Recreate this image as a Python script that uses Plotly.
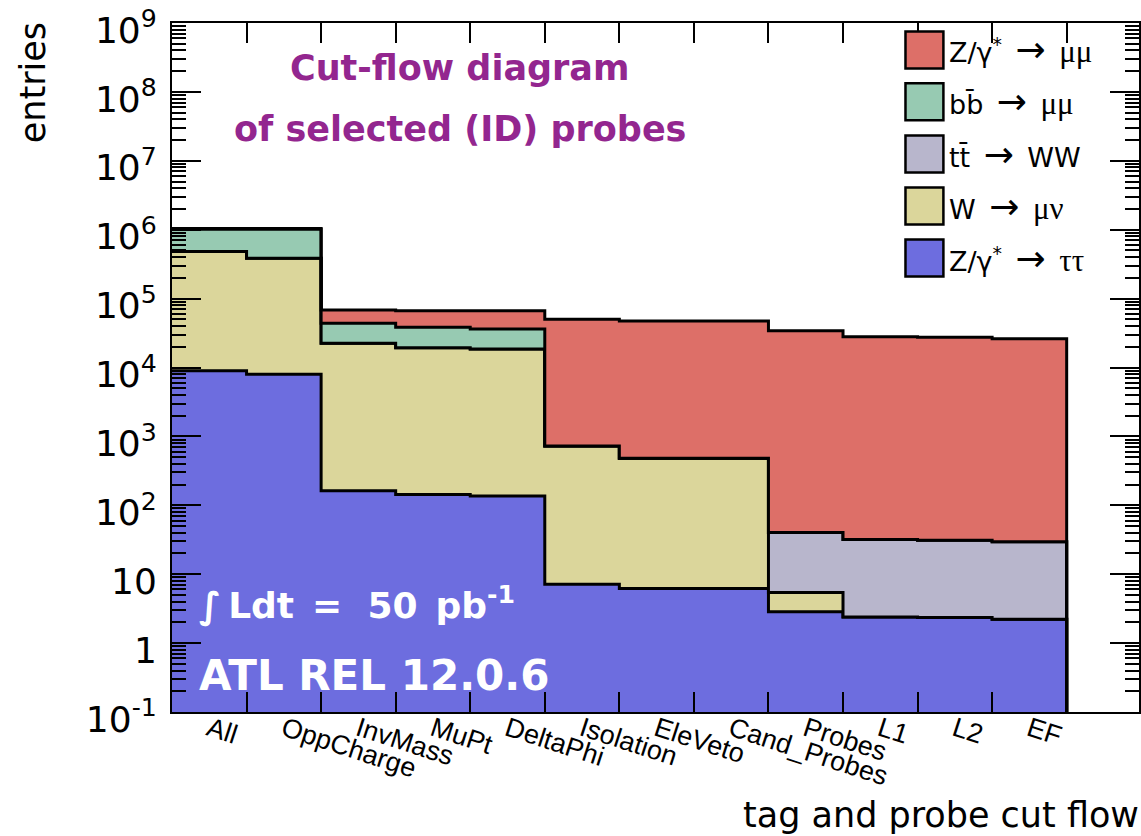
import numpy as np
import plotly.graph_objects as go

# ---------------- data ----------------
categories = ["All", "OppCharge", "InvMass", "MuPt", "DeltaPhi", "Isolation",
              "EleVeto", "Cand_Probes", "Probes", "L1", "L2", "EF", ""]

# stacked from bottom to top
z_tautau   = [8985, 7965, 162, 144, 137, 7.16, 6.2, 6.2, 2.84, 2.40, 2.35, 2.22, 0]
w_munu     = [472000, 377700, 22310, 19260, 18430, 717, 474, 474, 2.59, 0, 0, 0, 0]
ttbar_ww   = [0, 0, 0, 0, 0, 0, 0, 0, 35.0, 29.5, 28.85, 27.3, 0]
bbbar_mumu = [532000, 627000, 21400, 19000, 17600, 0, 0, 0, 0, 0, 0, 0, 0]
z_mumu     = [25000, 25000, 24500, 28500, 30700, 49400, 46900, 46900, 34160, 27970, 27470, 26170, 0]

series_names = ["Z/γ* → ττ", "W → μν", "tt̄ → WW", "bb̄ → μμ", "Z/γ* → μμ"]
series_values = [z_tautau, w_munu, ttbar_ww, bbbar_mumu, z_mumu]
series_colors = ["#6d6ddf", "#dbd69b", "#b8b6cc", "#97cab2", "#dd6f68"]

# legend rows (top to bottom) as rich text
SERIF = '<span style="font-family:Liberation Serif;font-size:31px">'
ARROW = '<span style="font-size:36px">→</span>'
legend_labels = [
    "Z/γ<sup>*</sup>\u2002" + ARROW + "\u2002" + SERIF + "μμ</span>",
    "bb̄\u2002" + ARROW + "\u2002" + SERIF + "μμ</span>",
    "tt̄\u2002" + ARROW + "\u2002WW",
    "W\u2002" + ARROW + "\u2002" + SERIF + "μν</span>",
    "Z/γ<sup>*</sup>\u2002" + ARROW + "\u2002" + SERIF + "ττ</span>",
]
legend_order = [4, 3, 2, 1, 0]  # series index for each legend row

ytick_exps = list(range(-1, 10))

# ---------------- geometry helpers ----------------
W, H = 1141, 836
ML, MR, MT, MB = 172, 0, 23, 124
PW, PH = W - ML - MR, H - MT - MB


def px(x):
    return (x - ML) / PW


def py(y):
    return (H - MB - y) / PH


fig = go.Figure()

n = len(categories)
edges = list(range(n + 1))
floor = 1e-3

# baseline below the visible range (for the bottom fill)
fig.add_trace(go.Scatter(x=edges, y=[floor] * (n + 1), mode="lines",
                         line=dict(width=0, color="rgba(0,0,0,0)"),
                         hoverinfo="skip", showlegend=False))

cum = np.zeros(n)
for name, vals, color in zip(series_names, series_values, series_colors):
    cum = cum + np.array(vals, dtype=float)
    yv = np.maximum(cum, floor)
    y = list(yv) + [yv[-1]]
    fig.add_trace(go.Scatter(x=edges, y=y, mode="lines",
                             line=dict(shape="hv", color="black", width=3),
                             fill="tonexty", fillcolor=color, name=name,
                             showlegend=False))

# ---------------- axes ----------------
ticktext_y = []
for e in ytick_exps:
    if e == 0:
        ticktext_y.append("1")
    elif e == 1:
        ticktext_y.append("10")
    else:
        ticktext_y.append("10<sup>%d</sup>" % e)

fig.update_xaxes(
    range=[0, 12.97], tickmode="array",
    tickvals=[i + 0.5 for i in range(n)], ticktext=categories,
    ticks="", tickangle=18, ticklabelstandoff=-11,
    tickfont=dict(family="Liberation Sans", size=27, color="black"),
    showline=True, linecolor="black", linewidth=2, mirror="ticks",
    showgrid=False, zeroline=False,
    minor=dict(tickmode="array", tickvals=list(range(1, n)), ticks="inside",
               ticklen=20, tickwidth=1.5, tickcolor="black", showgrid=False),
)

fig.update_yaxes(
    type="log", range=[-1, 9], tickmode="array",
    tickvals=[10.0 ** e for e in ytick_exps], ticktext=ticktext_y,
    ticks="inside", ticklen=29, tickwidth=2, tickcolor="black",
    tickfont=dict(family="DejaVu Sans", size=36, color="black"),
    ticklabelshift=7, ticklabelstandoff=6,
    showline=True, linecolor="black", linewidth=2, mirror="ticks",
    showgrid=False, zeroline=False,
    minor=dict(tickmode="array",
               tickvals=[m * 10.0 ** e for e in range(-1, 9) for m in range(2, 10)],
               ticks="inside", ticklen=14, tickwidth=2, tickcolor="black",
               showgrid=False),
)

# ---------------- legend (manual) ----------------
shapes = []
annotations = []
row_y = [50, 101.7, 154, 206, 258]
for ry, idx, lab in zip(row_y, legend_order, legend_labels):
    shapes.append(dict(type="rect", xref="paper", yref="paper",
                       x0=px(907), x1=px(945), y0=py(ry + 18.5), y1=py(ry - 18.5),
                       fillcolor=series_colors[idx], line=dict(color="black", width=2.5),
                       layer="above"))
    annotations.append(dict(xref="paper", yref="paper", x=px(949), y=py(ry),
                            xanchor="left", yanchor="middle", showarrow=False,
                            text=lab,
                            font=dict(family="DejaVu Sans", size=27, color="black")))

# ---------------- text ----------------
annotations += [
    dict(xref="paper", yref="paper", x=px(460.5), y=py(67.5), xanchor="center",
         yanchor="middle", showarrow=False, text="<b>Cut-flow diagram</b>",
         font=dict(family="DejaVu Sans", size=35, color="#93268f")),
    dict(xref="paper", yref="paper", x=px(460.5), y=py(129), xanchor="center",
         yanchor="middle", showarrow=False, text="<b>of selected (ID) probes</b>",
         font=dict(family="DejaVu Sans", size=35, color="#93268f")),
    dict(xref="paper", yref="paper", x=px(197), y=py(603.5), xanchor="left",
         yanchor="middle", showarrow=False,
         text="<b>∫\u2009Ldt\u2002=\u2002\u200950\u2002pb<sup>-1</sup></b>",
         font=dict(family="DejaVu Sans", size=36, color="white")),
    dict(xref="paper", yref="paper", x=px(197), y=py(675), xanchor="left",
         yanchor="middle", showarrow=False, text="<b>ATL REL 12.0.6</b>",
         font=dict(family="DejaVu Sans", size=42, color="white")),
    dict(xref="paper", yref="paper", x=px(1143), y=py(815), xanchor="right",
         yanchor="middle", showarrow=False, text="tag and probe cut flow",
         font=dict(family="DejaVu Sans", size=35, color="black")),
    dict(xref="paper", yref="paper", x=px(33), y=py(83), xanchor="center",
         yanchor="middle", showarrow=False, text="entries", textangle=-90,
         font=dict(family="DejaVu Sans", size=35, color="black")),
]

fig.update_layout(
    width=W, height=H, autosize=False,
    margin=dict(l=ML, r=MR, t=MT, b=MB, pad=0),
    plot_bgcolor="white", paper_bgcolor="white",
    showlegend=False, shapes=shapes, annotations=annotations,
)

fig.write_html("out.html")
